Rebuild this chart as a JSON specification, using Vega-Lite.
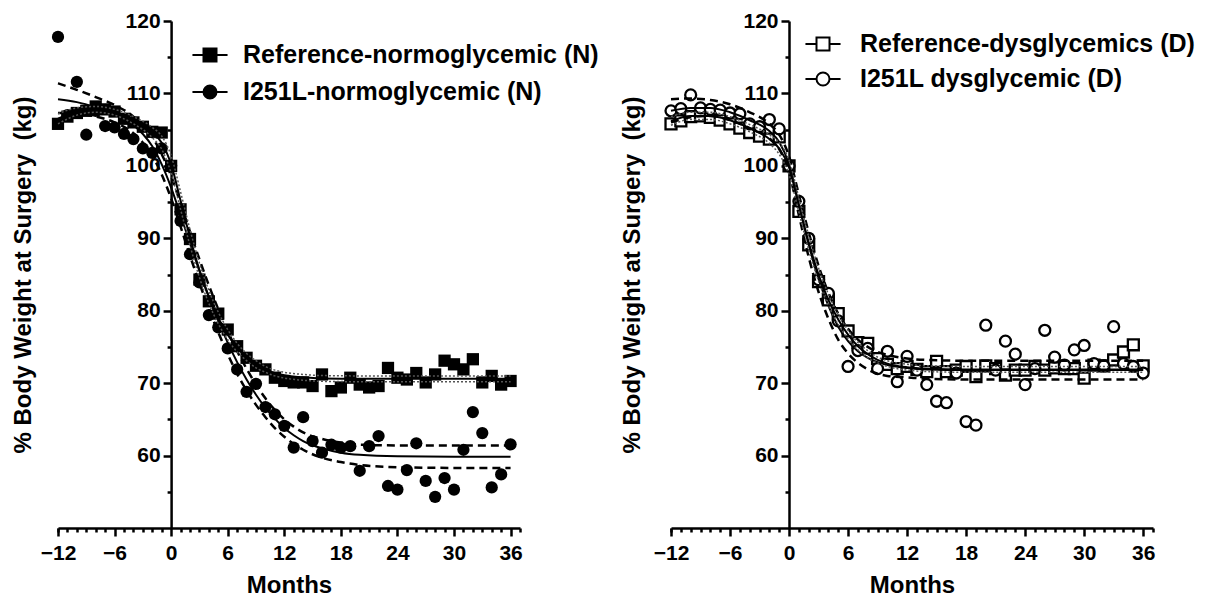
{
  "$schema": "https://vega.github.io/schema/vega-lite/v6.json",
  "background": "white",
  "padding": {"left": 11, "top": 10, "right": 5, "bottom": 5},
  "bounds": "flush",
  "spacing": 151,
  "config": {
    "view": {"stroke": null},
    "font": "Liberation Sans",
    "axis": {
      "grid": false, "domainColor": "black", "tickColor": "black", "labelColor": "black", "titleColor": "black",
      "labelFont": "Liberation Sans", "titleFont": "Liberation Sans", "labelFontWeight": "bold", "labelFontSize": 21,
      "titleFontSize": 24, "titleFontWeight": "bold", "domainWidth": 2.5, "tickWidth": 2.5, "labelFlush": false, "labelOverlap": false
    }
  },
  "resolve": {"scale": {"shape": "independent", "x": "independent", "y": "independent"}, "legend": {"shape": "independent"}},
  "datasets": {
    "leftPts": [
      {"m": -12, "v": 105.8, "s": "Reference-normoglycemic (N)"}, {"m": -11, "v": 106.8, "s": "Reference-normoglycemic (N)"}, {"m": -10, "v": 107.3, "s": "Reference-normoglycemic (N)"}, {"m": -9, "v": 107.6, "s": "Reference-normoglycemic (N)"}, {"m": -8, "v": 108.2, "s": "Reference-normoglycemic (N)"}, {"m": -7, "v": 107.8, "s": "Reference-normoglycemic (N)"}, {"m": -6, "v": 107.5, "s": "Reference-normoglycemic (N)"}, {"m": -5, "v": 106.5, "s": "Reference-normoglycemic (N)"}, {"m": -4, "v": 106.0, "s": "Reference-normoglycemic (N)"}, {"m": -3, "v": 105.4, "s": "Reference-normoglycemic (N)"}, {"m": -2, "v": 104.7, "s": "Reference-normoglycemic (N)"}, {"m": -1, "v": 104.6, "s": "Reference-normoglycemic (N)"}, {"m": 0, "v": 100.0, "s": "Reference-normoglycemic (N)"}, {"m": 1, "v": 94.0, "s": "Reference-normoglycemic (N)"}, {"m": 2, "v": 89.9, "s": "Reference-normoglycemic (N)"}, {"m": 3, "v": 84.3, "s": "Reference-normoglycemic (N)"}, {"m": 4, "v": 81.3, "s": "Reference-normoglycemic (N)"}, {"m": 5, "v": 79.6, "s": "Reference-normoglycemic (N)"}, {"m": 6, "v": 77.4, "s": "Reference-normoglycemic (N)"}, {"m": 7, "v": 75.1, "s": "Reference-normoglycemic (N)"}, {"m": 8, "v": 73.5, "s": "Reference-normoglycemic (N)"}, {"m": 9, "v": 72.4, "s": "Reference-normoglycemic (N)"}, {"m": 10, "v": 71.9, "s": "Reference-normoglycemic (N)"}, {"m": 11, "v": 70.75, "s": "Reference-normoglycemic (N)"}, {"m": 12, "v": 70.3, "s": "Reference-normoglycemic (N)"}, {"m": 13, "v": 70.1, "s": "Reference-normoglycemic (N)"}, {"m": 14, "v": 70.1, "s": "Reference-normoglycemic (N)"}, {"m": 15, "v": 69.6, "s": "Reference-normoglycemic (N)"}, {"m": 16, "v": 71.2, "s": "Reference-normoglycemic (N)"}, {"m": 17, "v": 68.9, "s": "Reference-normoglycemic (N)"}, {"m": 18, "v": 69.4, "s": "Reference-normoglycemic (N)"}, {"m": 19, "v": 70.75, "s": "Reference-normoglycemic (N)"}, {"m": 20, "v": 69.8, "s": "Reference-normoglycemic (N)"}, {"m": 21, "v": 69.4, "s": "Reference-normoglycemic (N)"}, {"m": 22, "v": 69.6, "s": "Reference-normoglycemic (N)"}, {"m": 23, "v": 72.1, "s": "Reference-normoglycemic (N)"}, {"m": 24, "v": 70.75, "s": "Reference-normoglycemic (N)"}, {"m": 25, "v": 70.5, "s": "Reference-normoglycemic (N)"}, {"m": 26, "v": 71.4, "s": "Reference-normoglycemic (N)"}, {"m": 27, "v": 70.1, "s": "Reference-normoglycemic (N)"}, {"m": 28, "v": 71.2, "s": "Reference-normoglycemic (N)"}, {"m": 29, "v": 73.1, "s": "Reference-normoglycemic (N)"}, {"m": 30, "v": 72.6, "s": "Reference-normoglycemic (N)"}, {"m": 31, "v": 71.9, "s": "Reference-normoglycemic (N)"}, {"m": 32, "v": 73.3, "s": "Reference-normoglycemic (N)"}, {"m": 33, "v": 70.1, "s": "Reference-normoglycemic (N)"}, {"m": 34, "v": 71.0, "s": "Reference-normoglycemic (N)"}, {"m": 35, "v": 69.8, "s": "Reference-normoglycemic (N)"}, {"m": 36, "v": 70.3, "s": "Reference-normoglycemic (N)"},
      {"m": -12, "v": 117.8, "s": "I251L-normoglycemic (N)"}, {"m": -11, "v": 107.0, "s": "I251L-normoglycemic (N)"}, {"m": -10, "v": 111.6, "s": "I251L-normoglycemic (N)"}, {"m": -9, "v": 104.3, "s": "I251L-normoglycemic (N)"}, {"m": -8, "v": 107.6, "s": "I251L-normoglycemic (N)"}, {"m": -7, "v": 105.5, "s": "I251L-normoglycemic (N)"}, {"m": -6, "v": 105.3, "s": "I251L-normoglycemic (N)"}, {"m": -5, "v": 104.4, "s": "I251L-normoglycemic (N)"}, {"m": -4, "v": 103.7, "s": "I251L-normoglycemic (N)"}, {"m": -3, "v": 102.4, "s": "I251L-normoglycemic (N)"}, {"m": -2, "v": 101.8, "s": "I251L-normoglycemic (N)"}, {"m": -1, "v": 102.4, "s": "I251L-normoglycemic (N)"}, {"m": 0, "v": 100.0, "s": "I251L-normoglycemic (N)"}, {"m": 1, "v": 92.4, "s": "I251L-normoglycemic (N)"}, {"m": 2, "v": 87.8, "s": "I251L-normoglycemic (N)"}, {"m": 3, "v": 83.9, "s": "I251L-normoglycemic (N)"}, {"m": 4, "v": 79.4, "s": "I251L-normoglycemic (N)"}, {"m": 5, "v": 77.7, "s": "I251L-normoglycemic (N)"}, {"m": 6, "v": 74.8, "s": "I251L-normoglycemic (N)"}, {"m": 7, "v": 71.9, "s": "I251L-normoglycemic (N)"}, {"m": 8, "v": 68.8, "s": "I251L-normoglycemic (N)"}, {"m": 9, "v": 69.9, "s": "I251L-normoglycemic (N)"}, {"m": 10, "v": 66.7, "s": "I251L-normoglycemic (N)"}, {"m": 11, "v": 65.7, "s": "I251L-normoglycemic (N)"}, {"m": 12, "v": 64.1, "s": "I251L-normoglycemic (N)"}, {"m": 13, "v": 61.1, "s": "I251L-normoglycemic (N)"}, {"m": 14, "v": 65.3, "s": "I251L-normoglycemic (N)"}, {"m": 15, "v": 62.0, "s": "I251L-normoglycemic (N)"}, {"m": 16, "v": 60.4, "s": "I251L-normoglycemic (N)"}, {"m": 17, "v": 61.5, "s": "I251L-normoglycemic (N)"}, {"m": 18, "v": 61.1, "s": "I251L-normoglycemic (N)"}, {"m": 19, "v": 61.3, "s": "I251L-normoglycemic (N)"}, {"m": 20, "v": 57.9, "s": "I251L-normoglycemic (N)"}, {"m": 21, "v": 61.3, "s": "I251L-normoglycemic (N)"}, {"m": 22, "v": 62.7, "s": "I251L-normoglycemic (N)"}, {"m": 23, "v": 55.8, "s": "I251L-normoglycemic (N)"}, {"m": 24, "v": 55.3, "s": "I251L-normoglycemic (N)"}, {"m": 25, "v": 58.0, "s": "I251L-normoglycemic (N)"}, {"m": 26, "v": 61.7, "s": "I251L-normoglycemic (N)"}, {"m": 27, "v": 56.5, "s": "I251L-normoglycemic (N)"}, {"m": 28, "v": 54.3, "s": "I251L-normoglycemic (N)"}, {"m": 29, "v": 56.9, "s": "I251L-normoglycemic (N)"}, {"m": 30, "v": 55.3, "s": "I251L-normoglycemic (N)"}, {"m": 31, "v": 60.8, "s": "I251L-normoglycemic (N)"}, {"m": 32, "v": 66.0, "s": "I251L-normoglycemic (N)"}, {"m": 33, "v": 63.1, "s": "I251L-normoglycemic (N)"}, {"m": 34, "v": 55.6, "s": "I251L-normoglycemic (N)"}, {"m": 35, "v": 57.4, "s": "I251L-normoglycemic (N)"}, {"m": 36, "v": 61.55, "s": "I251L-normoglycemic (N)"}
    ],
    "rightPts": [
      {"m": -12, "v": 105.8, "s": "Reference-dysglycemics (D)"}, {"m": -11, "v": 106.2, "s": "Reference-dysglycemics (D)"}, {"m": -10, "v": 106.8, "s": "Reference-dysglycemics (D)"}, {"m": -9, "v": 106.9, "s": "Reference-dysglycemics (D)"}, {"m": -8, "v": 106.7, "s": "Reference-dysglycemics (D)"}, {"m": -7, "v": 106.3, "s": "Reference-dysglycemics (D)"}, {"m": -6, "v": 105.8, "s": "Reference-dysglycemics (D)"}, {"m": -5, "v": 105.2, "s": "Reference-dysglycemics (D)"}, {"m": -4, "v": 104.6, "s": "Reference-dysglycemics (D)"}, {"m": -3, "v": 104.1, "s": "Reference-dysglycemics (D)"}, {"m": -2, "v": 103.7, "s": "Reference-dysglycemics (D)"}, {"m": -1, "v": 104.0, "s": "Reference-dysglycemics (D)"}, {"m": 0, "v": 100.0, "s": "Reference-dysglycemics (D)"}, {"m": 1, "v": 93.7, "s": "Reference-dysglycemics (D)"}, {"m": 2, "v": 89.1, "s": "Reference-dysglycemics (D)"}, {"m": 3, "v": 84.0, "s": "Reference-dysglycemics (D)"}, {"m": 4, "v": 81.5, "s": "Reference-dysglycemics (D)"}, {"m": 5, "v": 79.6, "s": "Reference-dysglycemics (D)"}, {"m": 6, "v": 77.2, "s": "Reference-dysglycemics (D)"}, {"m": 7, "v": 75.6, "s": "Reference-dysglycemics (D)"}, {"m": 8, "v": 75.5, "s": "Reference-dysglycemics (D)"}, {"m": 9, "v": 73.4, "s": "Reference-dysglycemics (D)"}, {"m": 10, "v": 72.6, "s": "Reference-dysglycemics (D)"}, {"m": 11, "v": 72.0, "s": "Reference-dysglycemics (D)"}, {"m": 12, "v": 72.3, "s": "Reference-dysglycemics (D)"}, {"m": 13, "v": 71.9, "s": "Reference-dysglycemics (D)"}, {"m": 14, "v": 71.6, "s": "Reference-dysglycemics (D)"}, {"m": 15, "v": 73.0, "s": "Reference-dysglycemics (D)"}, {"m": 16, "v": 71.6, "s": "Reference-dysglycemics (D)"}, {"m": 17, "v": 71.8, "s": "Reference-dysglycemics (D)"}, {"m": 18, "v": 72.3, "s": "Reference-dysglycemics (D)"}, {"m": 19, "v": 70.9, "s": "Reference-dysglycemics (D)"}, {"m": 20, "v": 72.4, "s": "Reference-dysglycemics (D)"}, {"m": 21, "v": 72.0, "s": "Reference-dysglycemics (D)"}, {"m": 22, "v": 71.1, "s": "Reference-dysglycemics (D)"}, {"m": 23, "v": 71.8, "s": "Reference-dysglycemics (D)"}, {"m": 24, "v": 71.8, "s": "Reference-dysglycemics (D)"}, {"m": 25, "v": 72.3, "s": "Reference-dysglycemics (D)"}, {"m": 26, "v": 71.8, "s": "Reference-dysglycemics (D)"}, {"m": 27, "v": 72.1, "s": "Reference-dysglycemics (D)"}, {"m": 28, "v": 72.0, "s": "Reference-dysglycemics (D)"}, {"m": 29, "v": 72.0, "s": "Reference-dysglycemics (D)"}, {"m": 30, "v": 70.7, "s": "Reference-dysglycemics (D)"}, {"m": 31, "v": 72.5, "s": "Reference-dysglycemics (D)"}, {"m": 32, "v": 72.4, "s": "Reference-dysglycemics (D)"}, {"m": 33, "v": 73.2, "s": "Reference-dysglycemics (D)"}, {"m": 34, "v": 74.3, "s": "Reference-dysglycemics (D)"}, {"m": 35, "v": 75.3, "s": "Reference-dysglycemics (D)"}, {"m": 36, "v": 72.4, "s": "Reference-dysglycemics (D)"},
      {"m": -12, "v": 107.6, "s": "I251L dysglycemic (D)"}, {"m": -11, "v": 107.9, "s": "I251L dysglycemic (D)"}, {"m": -10, "v": 109.8, "s": "I251L dysglycemic (D)"}, {"m": -9, "v": 108.0, "s": "I251L dysglycemic (D)"}, {"m": -8, "v": 107.8, "s": "I251L dysglycemic (D)"}, {"m": -7, "v": 107.7, "s": "I251L dysglycemic (D)"}, {"m": -6, "v": 107.3, "s": "I251L dysglycemic (D)"}, {"m": -5, "v": 107.2, "s": "I251L dysglycemic (D)"}, {"m": -4, "v": 105.8, "s": "I251L dysglycemic (D)"}, {"m": -3, "v": 105.4, "s": "I251L dysglycemic (D)"}, {"m": -2, "v": 106.4, "s": "I251L dysglycemic (D)"}, {"m": -1, "v": 105.1, "s": "I251L dysglycemic (D)"}, {"m": 0, "v": 100.0, "s": "I251L dysglycemic (D)"}, {"m": 1, "v": 95.1, "s": "I251L dysglycemic (D)"}, {"m": 2, "v": 90.0, "s": "I251L dysglycemic (D)"}, {"m": 3, "v": 84.3, "s": "I251L dysglycemic (D)"}, {"m": 4, "v": 82.4, "s": "I251L dysglycemic (D)"}, {"m": 5, "v": 78.6, "s": "I251L dysglycemic (D)"}, {"m": 6, "v": 72.3, "s": "I251L dysglycemic (D)"}, {"m": 7, "v": 74.5, "s": "I251L dysglycemic (D)"}, {"m": 8, "v": 74.8, "s": "I251L dysglycemic (D)"}, {"m": 9, "v": 72.0, "s": "I251L dysglycemic (D)"}, {"m": 10, "v": 74.4, "s": "I251L dysglycemic (D)"}, {"m": 11, "v": 70.2, "s": "I251L dysglycemic (D)"}, {"m": 12, "v": 73.7, "s": "I251L dysglycemic (D)"}, {"m": 13, "v": 71.8, "s": "I251L dysglycemic (D)"}, {"m": 14, "v": 69.8, "s": "I251L dysglycemic (D)"}, {"m": 15, "v": 67.5, "s": "I251L dysglycemic (D)"}, {"m": 16, "v": 67.3, "s": "I251L dysglycemic (D)"}, {"m": 17, "v": 71.4, "s": "I251L dysglycemic (D)"}, {"m": 18, "v": 64.7, "s": "I251L dysglycemic (D)"}, {"m": 19, "v": 64.2, "s": "I251L dysglycemic (D)"}, {"m": 20, "v": 78.0, "s": "I251L dysglycemic (D)"}, {"m": 21, "v": 71.8, "s": "I251L dysglycemic (D)"}, {"m": 22, "v": 75.8, "s": "I251L dysglycemic (D)"}, {"m": 23, "v": 74.0, "s": "I251L dysglycemic (D)"}, {"m": 24, "v": 69.8, "s": "I251L dysglycemic (D)"}, {"m": 25, "v": 72.0, "s": "I251L dysglycemic (D)"}, {"m": 26, "v": 77.3, "s": "I251L dysglycemic (D)"}, {"m": 27, "v": 73.6, "s": "I251L dysglycemic (D)"}, {"m": 28, "v": 72.5, "s": "I251L dysglycemic (D)"}, {"m": 29, "v": 74.6, "s": "I251L dysglycemic (D)"}, {"m": 30, "v": 75.2, "s": "I251L dysglycemic (D)"}, {"m": 31, "v": 72.7, "s": "I251L dysglycemic (D)"}, {"m": 32, "v": 72.4, "s": "I251L dysglycemic (D)"}, {"m": 33, "v": 77.8, "s": "I251L dysglycemic (D)"}, {"m": 34, "v": 72.7, "s": "I251L dysglycemic (D)"}, {"m": 35, "v": 72.3, "s": "I251L dysglycemic (D)"}, {"m": 36, "v": 71.4, "s": "I251L dysglycemic (D)"}
    ],
    "leftFits": [
      {"m": -12, "v": 106.5, "c": "NRef", "k": "fit"}, {"m": -10, "v": 107.5, "c": "NRef", "k": "fit"}, {"m": -8, "v": 107.8, "c": "NRef", "k": "fit"}, {"m": -6, "v": 107.4, "c": "NRef", "k": "fit"}, {"m": -4, "v": 106.3, "c": "NRef", "k": "fit"}, {"m": -2, "v": 104.6, "c": "NRef", "k": "fit"}, {"m": -1, "v": 103.2, "c": "NRef", "k": "fit"}, {"m": 0, "v": 100.2, "c": "NRef", "k": "fit"}, {"m": 1, "v": 95.2, "c": "NRef", "k": "fit"}, {"m": 2, "v": 90.1, "c": "NRef", "k": "fit"}, {"m": 3, "v": 85.6, "c": "NRef", "k": "fit"}, {"m": 4, "v": 81.9, "c": "NRef", "k": "fit"}, {"m": 5, "v": 79.0, "c": "NRef", "k": "fit"}, {"m": 6, "v": 76.7, "c": "NRef", "k": "fit"}, {"m": 7, "v": 74.9, "c": "NRef", "k": "fit"}, {"m": 8, "v": 73.6, "c": "NRef", "k": "fit"}, {"m": 9, "v": 72.6, "c": "NRef", "k": "fit"}, {"m": 10, "v": 71.9, "c": "NRef", "k": "fit"}, {"m": 11, "v": 71.4, "c": "NRef", "k": "fit"}, {"m": 12, "v": 71.1, "c": "NRef", "k": "fit"}, {"m": 14, "v": 70.8, "c": "NRef", "k": "fit"}, {"m": 16, "v": 70.65, "c": "NRef", "k": "fit"}, {"m": 20, "v": 70.6, "c": "NRef", "k": "fit"}, {"m": 28, "v": 70.6, "c": "NRef", "k": "fit"}, {"m": 36, "v": 70.6, "c": "NRef", "k": "fit"},
      {"m": -12, "v": 107.2, "c": "NRefU", "k": "refci"}, {"m": -10, "v": 108.0, "c": "NRefU", "k": "refci"}, {"m": -8, "v": 108.2, "c": "NRefU", "k": "refci"}, {"m": -6, "v": 107.8, "c": "NRefU", "k": "refci"}, {"m": -4, "v": 106.8, "c": "NRefU", "k": "refci"}, {"m": -2, "v": 105.3, "c": "NRefU", "k": "refci"}, {"m": -1, "v": 104.1, "c": "NRefU", "k": "refci"}, {"m": 0, "v": 101.4, "c": "NRefU", "k": "refci"}, {"m": 1, "v": 96.4, "c": "NRefU", "k": "refci"}, {"m": 2, "v": 91.2, "c": "NRefU", "k": "refci"}, {"m": 3, "v": 86.6, "c": "NRefU", "k": "refci"}, {"m": 4, "v": 82.8, "c": "NRefU", "k": "refci"}, {"m": 5, "v": 79.8, "c": "NRefU", "k": "refci"}, {"m": 6, "v": 77.4, "c": "NRefU", "k": "refci"}, {"m": 7, "v": 75.5, "c": "NRefU", "k": "refci"}, {"m": 8, "v": 74.1, "c": "NRefU", "k": "refci"}, {"m": 9, "v": 73.1, "c": "NRefU", "k": "refci"}, {"m": 10, "v": 72.3, "c": "NRefU", "k": "refci"}, {"m": 11, "v": 71.8, "c": "NRefU", "k": "refci"}, {"m": 12, "v": 71.5, "c": "NRefU", "k": "refci"}, {"m": 14, "v": 71.2, "c": "NRefU", "k": "refci"}, {"m": 16, "v": 71.05, "c": "NRefU", "k": "refci"}, {"m": 20, "v": 71.0, "c": "NRefU", "k": "refci"}, {"m": 28, "v": 71.0, "c": "NRefU", "k": "refci"}, {"m": 36, "v": 71.0, "c": "NRefU", "k": "refci"},
      {"m": -12, "v": 105.8, "c": "NRefL", "k": "refci"}, {"m": -10, "v": 107.0, "c": "NRefL", "k": "refci"}, {"m": -8, "v": 107.4, "c": "NRefL", "k": "refci"}, {"m": -6, "v": 107.0, "c": "NRefL", "k": "refci"}, {"m": -4, "v": 105.8, "c": "NRefL", "k": "refci"}, {"m": -2, "v": 103.9, "c": "NRefL", "k": "refci"}, {"m": -1, "v": 102.3, "c": "NRefL", "k": "refci"}, {"m": 0, "v": 99.0, "c": "NRefL", "k": "refci"}, {"m": 1, "v": 94.0, "c": "NRefL", "k": "refci"}, {"m": 2, "v": 89.0, "c": "NRefL", "k": "refci"}, {"m": 3, "v": 84.6, "c": "NRefL", "k": "refci"}, {"m": 4, "v": 81.0, "c": "NRefL", "k": "refci"}, {"m": 5, "v": 78.2, "c": "NRefL", "k": "refci"}, {"m": 6, "v": 76.0, "c": "NRefL", "k": "refci"}, {"m": 7, "v": 74.3, "c": "NRefL", "k": "refci"}, {"m": 8, "v": 73.1, "c": "NRefL", "k": "refci"}, {"m": 9, "v": 72.1, "c": "NRefL", "k": "refci"}, {"m": 10, "v": 71.5, "c": "NRefL", "k": "refci"}, {"m": 11, "v": 71.0, "c": "NRefL", "k": "refci"}, {"m": 12, "v": 70.7, "c": "NRefL", "k": "refci"}, {"m": 14, "v": 70.4, "c": "NRefL", "k": "refci"}, {"m": 16, "v": 70.25, "c": "NRefL", "k": "refci"}, {"m": 20, "v": 70.2, "c": "NRefL", "k": "refci"}, {"m": 28, "v": 70.2, "c": "NRefL", "k": "refci"}, {"m": 36, "v": 70.2, "c": "NRefL", "k": "refci"},
      {"m": -12, "v": 109.2, "c": "NI", "k": "fit"}, {"m": -10, "v": 108.8, "c": "NI", "k": "fit"}, {"m": -8, "v": 108.1, "c": "NI", "k": "fit"}, {"m": -6, "v": 107.2, "c": "NI", "k": "fit"}, {"m": -4, "v": 105.6, "c": "NI", "k": "fit"}, {"m": -3, "v": 104.4, "c": "NI", "k": "fit"}, {"m": -2, "v": 102.7, "c": "NI", "k": "fit"}, {"m": -1, "v": 100.2, "c": "NI", "k": "fit"}, {"m": 0, "v": 97.0, "c": "NI", "k": "fit"}, {"m": 1, "v": 93.2, "c": "NI", "k": "fit"}, {"m": 2, "v": 89.3, "c": "NI", "k": "fit"}, {"m": 3, "v": 85.5, "c": "NI", "k": "fit"}, {"m": 4, "v": 81.9, "c": "NI", "k": "fit"}, {"m": 5, "v": 78.6, "c": "NI", "k": "fit"}, {"m": 6, "v": 75.6, "c": "NI", "k": "fit"}, {"m": 7, "v": 72.9, "c": "NI", "k": "fit"}, {"m": 8, "v": 70.5, "c": "NI", "k": "fit"}, {"m": 9, "v": 68.4, "c": "NI", "k": "fit"}, {"m": 10, "v": 66.6, "c": "NI", "k": "fit"}, {"m": 11, "v": 65.1, "c": "NI", "k": "fit"}, {"m": 12, "v": 63.8, "c": "NI", "k": "fit"}, {"m": 13, "v": 62.8, "c": "NI", "k": "fit"}, {"m": 14, "v": 62.0, "c": "NI", "k": "fit"}, {"m": 16, "v": 61.0, "c": "NI", "k": "fit"}, {"m": 18, "v": 60.4, "c": "NI", "k": "fit"}, {"m": 20, "v": 60.1, "c": "NI", "k": "fit"}, {"m": 24, "v": 59.9, "c": "NI", "k": "fit"}, {"m": 30, "v": 59.85, "c": "NI", "k": "fit"}, {"m": 36, "v": 59.85, "c": "NI", "k": "fit"},
      {"m": -12, "v": 111.4, "c": "NIU", "k": "ci"}, {"m": -10, "v": 110.5, "c": "NIU", "k": "ci"}, {"m": -8, "v": 109.5, "c": "NIU", "k": "ci"}, {"m": -6, "v": 108.4, "c": "NIU", "k": "ci"}, {"m": -4, "v": 106.8, "c": "NIU", "k": "ci"}, {"m": -3, "v": 105.6, "c": "NIU", "k": "ci"}, {"m": -2, "v": 104.0, "c": "NIU", "k": "ci"}, {"m": -1, "v": 101.6, "c": "NIU", "k": "ci"}, {"m": 0, "v": 98.6, "c": "NIU", "k": "ci"}, {"m": 1, "v": 94.8, "c": "NIU", "k": "ci"}, {"m": 2, "v": 90.9, "c": "NIU", "k": "ci"}, {"m": 3, "v": 87.1, "c": "NIU", "k": "ci"}, {"m": 4, "v": 83.5, "c": "NIU", "k": "ci"}, {"m": 5, "v": 80.2, "c": "NIU", "k": "ci"}, {"m": 6, "v": 77.2, "c": "NIU", "k": "ci"}, {"m": 7, "v": 74.4, "c": "NIU", "k": "ci"}, {"m": 8, "v": 72.0, "c": "NIU", "k": "ci"}, {"m": 9, "v": 69.8, "c": "NIU", "k": "ci"}, {"m": 10, "v": 67.9, "c": "NIU", "k": "ci"}, {"m": 11, "v": 66.3, "c": "NIU", "k": "ci"}, {"m": 12, "v": 65.0, "c": "NIU", "k": "ci"}, {"m": 13, "v": 64.0, "c": "NIU", "k": "ci"}, {"m": 14, "v": 63.2, "c": "NIU", "k": "ci"}, {"m": 16, "v": 62.3, "c": "NIU", "k": "ci"}, {"m": 18, "v": 61.8, "c": "NIU", "k": "ci"}, {"m": 20, "v": 61.5, "c": "NIU", "k": "ci"}, {"m": 24, "v": 61.4, "c": "NIU", "k": "ci"}, {"m": 30, "v": 61.4, "c": "NIU", "k": "ci"}, {"m": 36, "v": 61.4, "c": "NIU", "k": "ci"},
      {"m": -12, "v": 107.3, "c": "NIL", "k": "ci"}, {"m": -10, "v": 107.2, "c": "NIL", "k": "ci"}, {"m": -8, "v": 106.8, "c": "NIL", "k": "ci"}, {"m": -6, "v": 106.0, "c": "NIL", "k": "ci"}, {"m": -4, "v": 104.5, "c": "NIL", "k": "ci"}, {"m": -3, "v": 103.2, "c": "NIL", "k": "ci"}, {"m": -2, "v": 101.4, "c": "NIL", "k": "ci"}, {"m": -1, "v": 98.8, "c": "NIL", "k": "ci"}, {"m": 0, "v": 95.5, "c": "NIL", "k": "ci"}, {"m": 1, "v": 91.6, "c": "NIL", "k": "ci"}, {"m": 2, "v": 87.6, "c": "NIL", "k": "ci"}, {"m": 3, "v": 83.8, "c": "NIL", "k": "ci"}, {"m": 4, "v": 80.3, "c": "NIL", "k": "ci"}, {"m": 5, "v": 77.0, "c": "NIL", "k": "ci"}, {"m": 6, "v": 74.0, "c": "NIL", "k": "ci"}, {"m": 7, "v": 71.3, "c": "NIL", "k": "ci"}, {"m": 8, "v": 69.0, "c": "NIL", "k": "ci"}, {"m": 9, "v": 67.0, "c": "NIL", "k": "ci"}, {"m": 10, "v": 65.3, "c": "NIL", "k": "ci"}, {"m": 11, "v": 63.8, "c": "NIL", "k": "ci"}, {"m": 12, "v": 62.6, "c": "NIL", "k": "ci"}, {"m": 13, "v": 61.6, "c": "NIL", "k": "ci"}, {"m": 14, "v": 60.8, "c": "NIL", "k": "ci"}, {"m": 16, "v": 59.7, "c": "NIL", "k": "ci"}, {"m": 18, "v": 59.1, "c": "NIL", "k": "ci"}, {"m": 20, "v": 58.7, "c": "NIL", "k": "ci"}, {"m": 24, "v": 58.4, "c": "NIL", "k": "ci"}, {"m": 30, "v": 58.3, "c": "NIL", "k": "ci"}, {"m": 36, "v": 58.3, "c": "NIL", "k": "ci"}
    ],
    "rightFits": [
      {"m": -12, "v": 106.2, "c": "DR", "k": "fit"}, {"m": -10, "v": 106.9, "c": "DR", "k": "fit"}, {"m": -8, "v": 106.9, "c": "DR", "k": "fit"}, {"m": -6, "v": 106.3, "c": "DR", "k": "fit"}, {"m": -4, "v": 105.2, "c": "DR", "k": "fit"}, {"m": -2, "v": 103.7, "c": "DR", "k": "fit"}, {"m": -1, "v": 102.4, "c": "DR", "k": "fit"}, {"m": 0, "v": 99.8, "c": "DR", "k": "fit"}, {"m": 1, "v": 94.6, "c": "DR", "k": "fit"}, {"m": 2, "v": 89.4, "c": "DR", "k": "fit"}, {"m": 3, "v": 85.0, "c": "DR", "k": "fit"}, {"m": 4, "v": 81.5, "c": "DR", "k": "fit"}, {"m": 5, "v": 78.8, "c": "DR", "k": "fit"}, {"m": 6, "v": 76.7, "c": "DR", "k": "fit"}, {"m": 7, "v": 75.1, "c": "DR", "k": "fit"}, {"m": 8, "v": 74.0, "c": "DR", "k": "fit"}, {"m": 9, "v": 73.2, "c": "DR", "k": "fit"}, {"m": 10, "v": 72.7, "c": "DR", "k": "fit"}, {"m": 12, "v": 72.2, "c": "DR", "k": "fit"}, {"m": 14, "v": 72.0, "c": "DR", "k": "fit"}, {"m": 18, "v": 71.9, "c": "DR", "k": "fit"}, {"m": 26, "v": 71.9, "c": "DR", "k": "fit"}, {"m": 36, "v": 71.9, "c": "DR", "k": "fit"},
      {"m": -12, "v": 106.8, "c": "DRU", "k": "refci"}, {"m": -10, "v": 107.4, "c": "DRU", "k": "refci"}, {"m": -8, "v": 107.4, "c": "DRU", "k": "refci"}, {"m": -6, "v": 106.8, "c": "DRU", "k": "refci"}, {"m": -4, "v": 105.7, "c": "DRU", "k": "refci"}, {"m": -2, "v": 104.3, "c": "DRU", "k": "refci"}, {"m": -1, "v": 103.2, "c": "DRU", "k": "refci"}, {"m": 0, "v": 100.8, "c": "DRU", "k": "refci"}, {"m": 1, "v": 95.6, "c": "DRU", "k": "refci"}, {"m": 2, "v": 90.4, "c": "DRU", "k": "refci"}, {"m": 3, "v": 85.9, "c": "DRU", "k": "refci"}, {"m": 4, "v": 82.3, "c": "DRU", "k": "refci"}, {"m": 5, "v": 79.5, "c": "DRU", "k": "refci"}, {"m": 6, "v": 77.3, "c": "DRU", "k": "refci"}, {"m": 7, "v": 75.6, "c": "DRU", "k": "refci"}, {"m": 8, "v": 74.5, "c": "DRU", "k": "refci"}, {"m": 9, "v": 73.6, "c": "DRU", "k": "refci"}, {"m": 10, "v": 73.1, "c": "DRU", "k": "refci"}, {"m": 12, "v": 72.6, "c": "DRU", "k": "refci"}, {"m": 14, "v": 72.4, "c": "DRU", "k": "refci"}, {"m": 18, "v": 72.3, "c": "DRU", "k": "refci"}, {"m": 26, "v": 72.3, "c": "DRU", "k": "refci"}, {"m": 36, "v": 72.3, "c": "DRU", "k": "refci"},
      {"m": -12, "v": 105.6, "c": "DRL", "k": "refci"}, {"m": -10, "v": 106.4, "c": "DRL", "k": "refci"}, {"m": -8, "v": 106.4, "c": "DRL", "k": "refci"}, {"m": -6, "v": 105.8, "c": "DRL", "k": "refci"}, {"m": -4, "v": 104.7, "c": "DRL", "k": "refci"}, {"m": -2, "v": 103.1, "c": "DRL", "k": "refci"}, {"m": -1, "v": 101.6, "c": "DRL", "k": "refci"}, {"m": 0, "v": 98.8, "c": "DRL", "k": "refci"}, {"m": 1, "v": 93.6, "c": "DRL", "k": "refci"}, {"m": 2, "v": 88.4, "c": "DRL", "k": "refci"}, {"m": 3, "v": 84.1, "c": "DRL", "k": "refci"}, {"m": 4, "v": 80.7, "c": "DRL", "k": "refci"}, {"m": 5, "v": 78.1, "c": "DRL", "k": "refci"}, {"m": 6, "v": 76.1, "c": "DRL", "k": "refci"}, {"m": 7, "v": 74.6, "c": "DRL", "k": "refci"}, {"m": 8, "v": 73.5, "c": "DRL", "k": "refci"}, {"m": 9, "v": 72.8, "c": "DRL", "k": "refci"}, {"m": 10, "v": 72.3, "c": "DRL", "k": "refci"}, {"m": 12, "v": 71.8, "c": "DRL", "k": "refci"}, {"m": 14, "v": 71.6, "c": "DRL", "k": "refci"}, {"m": 18, "v": 71.5, "c": "DRL", "k": "refci"}, {"m": 26, "v": 71.5, "c": "DRL", "k": "refci"}, {"m": 36, "v": 71.5, "c": "DRL", "k": "refci"},
      {"m": -12, "v": 107.6, "c": "DI", "k": "fit"}, {"m": -10, "v": 108.0, "c": "DI", "k": "fit"}, {"m": -8, "v": 108.0, "c": "DI", "k": "fit"}, {"m": -6, "v": 107.4, "c": "DI", "k": "fit"}, {"m": -4, "v": 106.3, "c": "DI", "k": "fit"}, {"m": -2, "v": 104.8, "c": "DI", "k": "fit"}, {"m": -1, "v": 103.3, "c": "DI", "k": "fit"}, {"m": 0, "v": 100.2, "c": "DI", "k": "fit"}, {"m": 1, "v": 94.6, "c": "DI", "k": "fit"}, {"m": 2, "v": 89.1, "c": "DI", "k": "fit"}, {"m": 3, "v": 84.4, "c": "DI", "k": "fit"}, {"m": 4, "v": 80.7, "c": "DI", "k": "fit"}, {"m": 5, "v": 77.8, "c": "DI", "k": "fit"}, {"m": 6, "v": 75.8, "c": "DI", "k": "fit"}, {"m": 7, "v": 74.4, "c": "DI", "k": "fit"}, {"m": 8, "v": 73.5, "c": "DI", "k": "fit"}, {"m": 9, "v": 72.9, "c": "DI", "k": "fit"}, {"m": 10, "v": 72.5, "c": "DI", "k": "fit"}, {"m": 12, "v": 72.1, "c": "DI", "k": "fit"}, {"m": 14, "v": 71.9, "c": "DI", "k": "fit"}, {"m": 18, "v": 71.8, "c": "DI", "k": "fit"}, {"m": 26, "v": 71.8, "c": "DI", "k": "fit"}, {"m": 36, "v": 71.8, "c": "DI", "k": "fit"},
      {"m": -12, "v": 109.2, "c": "DIU", "k": "ci"}, {"m": -10, "v": 109.3, "c": "DIU", "k": "ci"}, {"m": -8, "v": 109.1, "c": "DIU", "k": "ci"}, {"m": -6, "v": 108.5, "c": "DIU", "k": "ci"}, {"m": -4, "v": 107.4, "c": "DIU", "k": "ci"}, {"m": -2, "v": 105.8, "c": "DIU", "k": "ci"}, {"m": -1, "v": 104.3, "c": "DIU", "k": "ci"}, {"m": 0, "v": 101.3, "c": "DIU", "k": "ci"}, {"m": 1, "v": 96.0, "c": "DIU", "k": "ci"}, {"m": 2, "v": 90.8, "c": "DIU", "k": "ci"}, {"m": 3, "v": 86.2, "c": "DIU", "k": "ci"}, {"m": 4, "v": 82.5, "c": "DIU", "k": "ci"}, {"m": 5, "v": 79.6, "c": "DIU", "k": "ci"}, {"m": 6, "v": 77.5, "c": "DIU", "k": "ci"}, {"m": 7, "v": 76.0, "c": "DIU", "k": "ci"}, {"m": 8, "v": 75.0, "c": "DIU", "k": "ci"}, {"m": 9, "v": 74.3, "c": "DIU", "k": "ci"}, {"m": 10, "v": 73.9, "c": "DIU", "k": "ci"}, {"m": 12, "v": 73.4, "c": "DIU", "k": "ci"}, {"m": 14, "v": 73.2, "c": "DIU", "k": "ci"}, {"m": 18, "v": 73.1, "c": "DIU", "k": "ci"}, {"m": 26, "v": 73.1, "c": "DIU", "k": "ci"}, {"m": 36, "v": 73.1, "c": "DIU", "k": "ci"},
      {"m": -12, "v": 106.0, "c": "DIL", "k": "ci"}, {"m": -10, "v": 106.7, "c": "DIL", "k": "ci"}, {"m": -8, "v": 106.9, "c": "DIL", "k": "ci"}, {"m": -6, "v": 106.3, "c": "DIL", "k": "ci"}, {"m": -4, "v": 105.2, "c": "DIL", "k": "ci"}, {"m": -2, "v": 103.8, "c": "DIL", "k": "ci"}, {"m": -1, "v": 102.3, "c": "DIL", "k": "ci"}, {"m": 0, "v": 99.1, "c": "DIL", "k": "ci"}, {"m": 1, "v": 93.2, "c": "DIL", "k": "ci"}, {"m": 2, "v": 87.4, "c": "DIL", "k": "ci"}, {"m": 3, "v": 82.6, "c": "DIL", "k": "ci"}, {"m": 4, "v": 78.9, "c": "DIL", "k": "ci"}, {"m": 5, "v": 76.0, "c": "DIL", "k": "ci"}, {"m": 6, "v": 74.1, "c": "DIL", "k": "ci"}, {"m": 7, "v": 72.8, "c": "DIL", "k": "ci"}, {"m": 8, "v": 71.9, "c": "DIL", "k": "ci"}, {"m": 9, "v": 71.3, "c": "DIL", "k": "ci"}, {"m": 10, "v": 71.0, "c": "DIL", "k": "ci"}, {"m": 12, "v": 70.8, "c": "DIL", "k": "ci"}, {"m": 14, "v": 70.6, "c": "DIL", "k": "ci"}, {"m": 18, "v": 70.5, "c": "DIL", "k": "ci"}, {"m": 26, "v": 70.5, "c": "DIL", "k": "ci"}, {"m": 36, "v": 70.5, "c": "DIL", "k": "ci"}
    ]
  },
  "hconcat": [
    {
      "width": 462, "height": 507,
      "resolve": {"axis": {"x": "independent", "y": "independent"}, "scale": {"shape": "independent"}, "legend": {"shape": "independent"}},
      "layer": [
        {
          "data": {"name": "leftPts"},
          "mark": {"type": "point", "filled": true, "color": "black", "size": 150, "opacity": 1},
          "encoding": {
            "x": {"field": "m", "type": "quantitative", "scale": {"domain": [-12, 37], "nice": false, "zero": false},
              "axis": {"orient": "bottom", "values": [-12, -6, 0, 6, 12, 18, 24, 30, 36], "tickSize": 8, "labelPadding": 6, "title": "Months", "titlePadding": 10}},
            "y": {"field": "v", "type": "quantitative", "scale": {"domain": [50, 120], "nice": false, "zero": false},
              "axis": {"orient": "left", "offset": -113.1, "values": [60, 70, 80, 90, 100, 110, 120], "tickSize": 8, "labelPadding": 3, "title": "% Body Weight at Surgery \u00a0(kg)", "titleX": -136}},
            "shape": {"field": "s", "type": "nominal",
              "scale": {"domain": ["Reference-normoglycemic (N)", "I251L-normoglycemic (N)"], "range": ["square", "circle"]},
              "legend": null}
          }
        },
        {
          "data": {"name": "leftPts"},
          "mark": {"type": "point", "filled": false, "fill": "black", "stroke": "black", "opacity": 0},
          "encoding": {
            "x": {"field": "m", "type": "quantitative", "axis": null},
            "y": {"field": "v", "type": "quantitative", "axis": null},
            "shape": {"field": "s", "type": "nominal",
              "scale": {"domain": ["Reference-normoglycemic (N)", "I251L-normoglycemic (N)"], "range": ["M-1.35,0H-0.5M0.5,0H1.35M-0.5,-0.5H0.5V0.5H-0.5Z", "M-1.35,0H-0.5M0.5,0H1.35M0.5,0A0.5,0.5,0,1,1,-0.5,0A0.5,0.5,0,1,1,0.5,0Z"]},
              "legend": {"title": null, "orient": "none", "legendX": 138, "legendY": 20, "padding": 0, "symbolSize": 676,
                "labelFontSize": 25, "labelFontWeight": "bold", "labelFont": "Liberation Sans", "labelColor": "black", "labelOffset": 19, "labelLimit": 600,
                "rowPadding": 10, "symbolStrokeWidth": 2,
                "encode": {"symbols": {"update": {
                  "fill": {"value": "black"}, "stroke": {"value": "black"}, "strokeWidth": {"value": 2}, "size": {"value": 676}, "opacity": {"value": 1}}}}}}
          }
        },
        {
          "data": {"name": "leftFits"},
          "transform": [{"filter": "datum.k === 'fit'"}],
          "mark": {"type": "line", "color": "black", "strokeWidth": 2, "interpolate": "monotone"},
          "encoding": {
            "x": {"field": "m", "type": "quantitative", "axis": {"orient": "bottom", "values": [-12, -11, -10, -9, -8, -7, -5, -4, -3, -2, -1, 1, 2, 3, 4, 5, 7, 8, 9, 10, 11, 13, 14, 15, 16, 17, 19, 20, 21, 22, 23, 25, 26, 27, 28, 29, 31, 32, 33, 34, 35, 37], "tickSize": 4, "labels": false, "domain": false, "title": null}},
            "y": {"field": "v", "type": "quantitative", "axis": {"orient": "left", "offset": -113.1, "values": [55, 65, 75, 85, 95, 105, 115], "tickSize": 4, "labels": false, "domain": false, "title": null}},
            "detail": {"field": "c"}
          }
        },
        {
          "data": {"name": "leftFits"},
          "transform": [{"filter": "datum.k === 'ci'"}],
          "mark": {"type": "line", "color": "black", "strokeWidth": 2.5, "strokeDash": [8, 5], "interpolate": "monotone"},
          "encoding": {
            "x": {"field": "m", "type": "quantitative", "axis": null},
            "y": {"field": "v", "type": "quantitative", "axis": null},
            "detail": {"field": "c"}
          }
        },
        {
          "data": {"name": "leftFits"},
          "transform": [{"filter": "datum.k === 'refci'"}],
          "mark": {"type": "line", "color": "#555555", "strokeWidth": 1.5, "strokeDash": [2, 2], "interpolate": "monotone"},
          "encoding": {
            "x": {"field": "m", "type": "quantitative", "axis": null},
            "y": {"field": "v", "type": "quantitative", "axis": null},
            "detail": {"field": "c"}
          }
        }
      ]
    },
    {
      "width": 482, "height": 507,
      "resolve": {"axis": {"x": "independent", "y": "independent"}, "scale": {"shape": "independent"}, "legend": {"shape": "independent"}},
      "layer": [
        {
          "data": {"name": "rightPts"},
          "mark": {"type": "point", "filled": false, "fill": "white", "fillOpacity": 1, "stroke": "black", "strokeWidth": 2.3, "size": 120, "opacity": 1},
          "encoding": {
            "x": {"field": "m", "type": "quantitative", "scale": {"domain": [-12, 37], "nice": false, "zero": false},
              "axis": {"orient": "bottom", "values": [-12, -6, 0, 6, 12, 18, 24, 30, 36], "tickSize": 8, "labelPadding": 6, "title": "Months", "titlePadding": 10}},
            "y": {"field": "v", "type": "quantitative", "scale": {"domain": [50, 120], "nice": false, "zero": false},
              "axis": {"orient": "left", "offset": -118.0, "values": [60, 70, 80, 90, 100, 110, 120], "tickSize": 8, "labelPadding": 3, "title": "% Body Weight at Surgery \u00a0(kg)", "titleX": -145}},
            "shape": {"field": "s", "type": "nominal",
              "scale": {"domain": ["Reference-dysglycemics (D)", "I251L dysglycemic (D)"], "range": ["square", "circle"]},
              "legend": null}
          }
        },
        {
          "data": {"name": "rightPts"},
          "mark": {"type": "point", "filled": false, "fill": "white", "stroke": "black", "opacity": 0},
          "encoding": {
            "x": {"field": "m", "type": "quantitative", "axis": null},
            "y": {"field": "v", "type": "quantitative", "axis": null},
            "shape": {"field": "s", "type": "nominal",
              "scale": {"domain": ["Reference-dysglycemics (D)", "I251L dysglycemic (D)"], "range": ["M-1.35,0H-0.5M0.5,0H1.35M-0.5,-0.5H0.5V0.5H-0.5Z", "M-1.35,0H-0.5M0.5,0H1.35M0.5,0A0.5,0.5,0,1,1,-0.5,0A0.5,0.5,0,1,1,0.5,0Z"]},
              "legend": {"title": null, "orient": "none", "legendX": 138, "legendY": 9, "padding": 0, "symbolSize": 676,
                "labelFontSize": 25, "labelFontWeight": "bold", "labelFont": "Liberation Sans", "labelColor": "black", "labelOffset": 23, "labelLimit": 600,
                "rowPadding": 8, "symbolStrokeWidth": 2,
                "encode": {"symbols": {"update": {
                  "fill": {"value": "white"}, "stroke": {"value": "black"}, "strokeWidth": {"value": 2}, "size": {"value": 676}, "opacity": {"value": 1}}}}}}
          }
        },
        {
          "data": {"name": "rightFits"},
          "transform": [{"filter": "datum.k === 'fit'"}],
          "mark": {"type": "line", "color": "black", "strokeWidth": 2, "interpolate": "monotone"},
          "encoding": {
            "x": {"field": "m", "type": "quantitative", "axis": {"orient": "bottom", "values": [-12, -11, -10, -9, -8, -7, -5, -4, -3, -2, -1, 1, 2, 3, 4, 5, 7, 8, 9, 10, 11, 13, 14, 15, 16, 17, 19, 20, 21, 22, 23, 25, 26, 27, 28, 29, 31, 32, 33, 34, 35, 37], "tickSize": 4, "labels": false, "domain": false, "title": null}},
            "y": {"field": "v", "type": "quantitative", "axis": {"orient": "left", "offset": -118.0, "values": [55, 65, 75, 85, 95, 105, 115], "tickSize": 4, "labels": false, "domain": false, "title": null}},
            "detail": {"field": "c"}
          }
        },
        {
          "data": {"name": "rightFits"},
          "transform": [{"filter": "datum.k === 'ci'"}],
          "mark": {"type": "line", "color": "black", "strokeWidth": 2.5, "strokeDash": [8, 5], "interpolate": "monotone"},
          "encoding": {
            "x": {"field": "m", "type": "quantitative", "axis": null},
            "y": {"field": "v", "type": "quantitative", "axis": null},
            "detail": {"field": "c"}
          }
        },
        {
          "data": {"name": "rightFits"},
          "transform": [{"filter": "datum.k === 'refci'"}],
          "mark": {"type": "line", "color": "#555555", "strokeWidth": 1.5, "strokeDash": [2, 2], "interpolate": "monotone"},
          "encoding": {
            "x": {"field": "m", "type": "quantitative", "axis": null},
            "y": {"field": "v", "type": "quantitative", "axis": null},
            "detail": {"field": "c"}
          }
        }
      ]
    }
  ]
}
